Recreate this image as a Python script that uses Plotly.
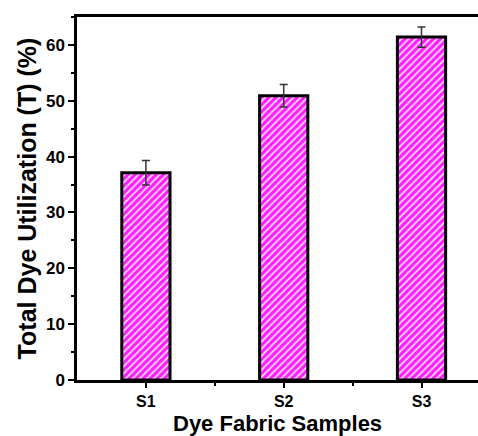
import plotly.graph_objects as go

categories = ["S1", "S2", "S3"]
positions = [1, 2, 3]
values = [37.1, 50.9, 61.4]
errors = [2.2, 2.0, 1.8]

y_ticks = [0, 10, 20, 30, 40, 50, 60]

fig = go.Figure()
fig.add_trace(go.Bar(
    x=positions, y=values, width=0.35,
    marker=dict(
        color="#ff1aff",
        line=dict(color="black", width=3),
        pattern=dict(shape="/", fgcolor="white", bgcolor="#ff1aff", size=5, solidity=0.4, fgopacity=0.8),
    ),
    error_y=dict(type="data", array=errors, visible=True, color="#333333", thickness=1.5, width=4),
    showlegend=False,
))

font_family = "Liberation Sans, Arial, sans-serif"
fig.update_layout(
    width=478, height=436,
    margin=dict(l=77, r=0, t=17, b=56, autoexpand=False),
    plot_bgcolor="white", paper_bgcolor="white",
    font=dict(family=font_family, color="black"),
    xaxis=dict(
        range=[0.5, 3.41], tickvals=positions, ticktext=[f"<b>{c}</b>" for c in categories],
        showline=True, linecolor="black", linewidth=2.5, mirror=True, automargin=False,
        ticks="outside", ticklen=5, tickwidth=2, tickcolor="black",
        minor=dict(tickvals=[1.5, 2.5], ticks="outside", ticklen=3, tickwidth=2, tickcolor="black"),
        showgrid=False, zeroline=False,
        tickfont=dict(size=16, family=font_family),
    ),
    yaxis=dict(
        range=[0, 65], tickvals=y_ticks, ticktext=[f"<b>{v}</b>" for v in y_ticks],
        showline=True, linecolor="black", linewidth=2.5, mirror=True, automargin=False,
        ticks="outside", ticklen=6, tickwidth=2, tickcolor="black",
        minor=dict(dtick=5, ticks="outside", ticklen=3, tickwidth=2, tickcolor="black"),
        showgrid=False, zeroline=False,
        tickfont=dict(size=17, family=font_family),
    ),
    annotations=[
        dict(text="<b>Dye Fabric Samples</b>", xref="paper", yref="paper", x=0.5, y=-0.119,
             xanchor="center", yanchor="middle", showarrow=False, borderpad=0,
             font=dict(size=22, family=font_family)),
        dict(text="<b>Total Dye Utilization (T) (%)</b>", xref="paper", yref="paper", x=-0.125, y=0.5,
             xanchor="center", yanchor="middle", textangle=-90, showarrow=False, borderpad=0,
             font=dict(size=25, family=font_family)),
    ],
)

fig.write_html("out.html", config={"displayModeBar": False},
               post_script="document.body.style.margin='0';document.body.style.overflow='hidden';")
